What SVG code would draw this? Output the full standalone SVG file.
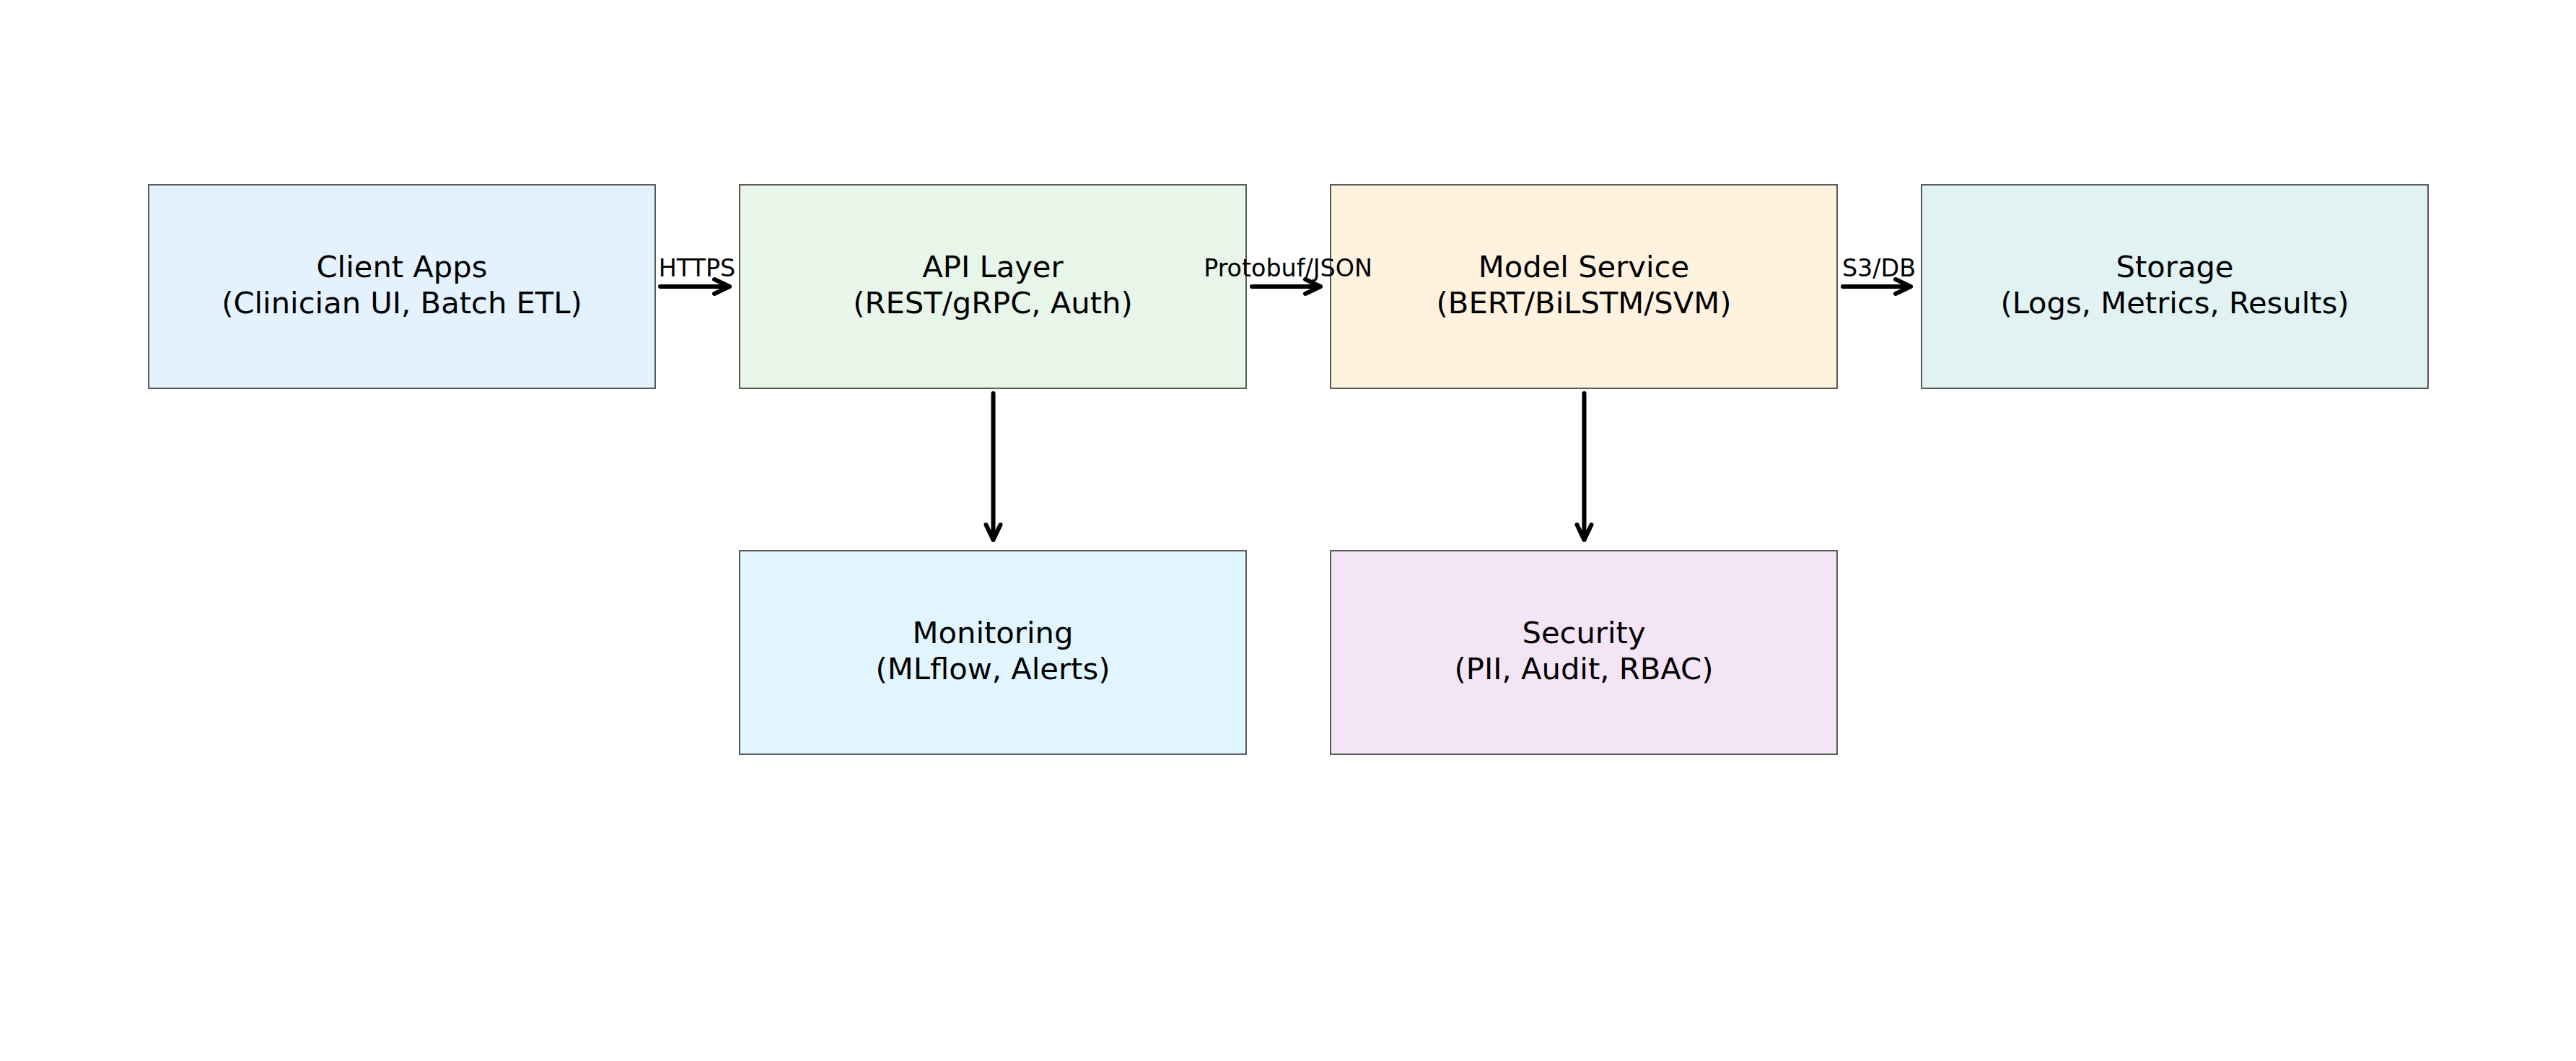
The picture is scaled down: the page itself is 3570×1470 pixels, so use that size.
<svg xmlns="http://www.w3.org/2000/svg" width="3570" height="1470" viewBox="0 0 3570 1470">
<style>
.box{stroke:#333333;stroke-width:1.6}
.t{font-family:"DejaVu Sans",sans-serif;font-size:41.67px;fill:#000;text-anchor:middle}
.lbl{font-family:"DejaVu Sans",sans-serif;font-size:33.33px;fill:#000;text-anchor:middle}
.c{fill:none;stroke:#000;stroke-width:6;stroke-linecap:round;stroke-linejoin:round}
</style>
<rect width="3570" height="1470" fill="#ffffff"/>
<g id="client">
<rect class="box" x="206" y="256" width="702" height="282" fill="#E3F2FD"/>
<text class="t" x="557" y="384">Client Apps</text>
<text class="t" x="557" y="434">(Clinician UI, Batch ETL)</text>
</g>
<g id="api">
<rect class="box" x="1025" y="256" width="702" height="282" fill="#E8F5E9"/>
<text class="t" x="1376" y="384">API Layer</text>
<text class="t" x="1376" y="434">(REST/gRPC, Auth)</text>
</g>
<g id="model">
<rect class="box" x="1844" y="256" width="702" height="282" fill="#FFF3E0"/>
<text class="t" x="2195" y="384">Model Service</text>
<text class="t" x="2195" y="434">(BERT/BiLSTM/SVM)</text>
</g>
<g id="storage">
<rect class="box" x="2663" y="256" width="702" height="282" fill="#E0F2F1"/>
<text class="t" x="3014" y="384">Storage</text>
<text class="t" x="3014" y="434">(Logs, Metrics, Results)</text>
</g>
<g id="monitoring">
<rect class="box" x="1025" y="763" width="702" height="282" fill="#E1F5FE"/>
<text class="t" x="1376" y="891">Monitoring</text>
<text class="t" x="1376" y="941">(MLflow, Alerts)</text>
</g>
<g id="security">
<rect class="box" x="1844" y="763" width="702" height="282" fill="#F3E5F5"/>
<text class="t" x="2195" y="891">Security</text>
<text class="t" x="2195" y="941">(PII, Audit, RBAC)</text>
</g>
<g id="connectors">
<path class="c" d="M915 397 H1011 M990 387 L1011 397 L990 407"/>
<path class="c" d="M1735 397 H1830 M1809 387 L1830 397 L1809 407"/>
<path class="c" d="M2554 397 H2648 M2627 387 L2648 397 L2627 407"/>
<path class="c" d="M1376.5 545 V748 M1366.5 727 L1376.5 748 L1386.5 727"/>
<path class="c" d="M2195.5 545 V748 M2185.5 727 L2195.5 748 L2205.5 727"/>
<text class="lbl" x="966" y="383">HTTPS</text>
<text class="lbl" x="1785" y="383">Protobuf/JSON</text>
<text class="lbl" x="2604" y="383">S3/DB</text>
</g>
</svg>
